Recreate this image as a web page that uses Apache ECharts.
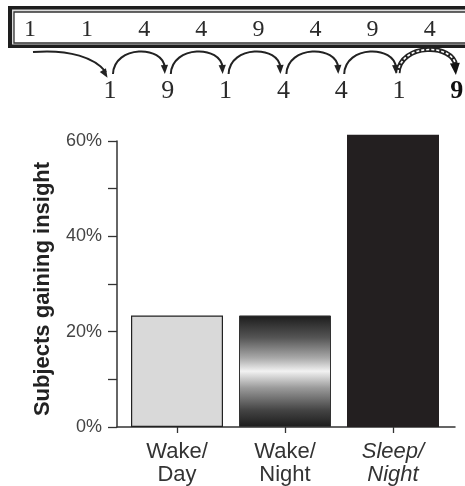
<!DOCTYPE html>
<html>
<head>
<meta charset="utf-8">
<script src="https://cdn.jsdelivr.net/npm/echarts@6/dist/echarts.min.js"></script>
<style>
html,body{margin:0;padding:0;background:#fff;}
#chart{width:465px;height:486px;}
</style>
</head>
<body>
<div id="chart"></div>
<script>
// ---- data ----
const categories = ['Wake/\nDay', 'Wake/\nNight', 'Sleep/\nNight'];
const insightPercent = [23.4, 23.4, 61.3];
const yTicks = [0, 20, 40, 60];
const stimulusSequence = [1, 1, 4, 4, 9, 4, 9, 4];
const responseSequence = [1, 9, 1, 4, 4, 1, 9];

// ---- layout helpers (not data) ----
const seqX0 = 30, seqDx = 57.1, seqY = 29.5;
const respX0 = 110, respDx = 57.8, respY = 91;

function arrowHead(ex, ey, cx, cy, size, color) {
  const dx = ex - cx, dy = ey - cy;
  const len = Math.sqrt(dx * dx + dy * dy);
  const ux = dx / len, uy = dy / len;
  const px = -uy, py = ux;
  const bx = ex - ux * size, by = ey - uy * size;
  const w = size * 0.45;
  return {
    type: 'polygon',
    shape: { points: [[ex + ux * 1, ey + uy * 1], [bx + px * w, by + py * w], [bx - px * w, by - py * w]] },
    style: { fill: color }
  };
}

const graphics = [];
// double-bordered box
graphics.push({ type: 'rect', shape: { x: 8, y: 6, width: 480, height: 42 }, style: { fill: '#1e1e1e' } });
graphics.push({ type: 'rect', shape: { x: 12, y: 9.5, width: 480, height: 35 }, style: { fill: '#dcdcdc' } });
graphics.push({ type: 'rect', shape: { x: 14, y: 12, width: 480, height: 31 }, style: { fill: '#ffffff', stroke: '#333', lineWidth: 1.3 } });

stimulusSequence.forEach((v, i) => {
  graphics.push({
    type: 'text', x: seqX0 + i * seqDx, y: seqY,
    style: { text: String(v), font: '24px "Liberation Serif"', fill: '#2a2a2a', align: 'center', verticalAlign: 'middle' }
  });
});
responseSequence.forEach((v, i) => {
  const last = i === responseSequence.length - 1;
  graphics.push({
    type: 'text', x: respX0 + i * respDx, y: respY,
    style: { text: String(v), font: (last ? 'bold ' : '') + '26px "Liberation Serif"', fill: last ? '#111' : '#2a2a2a', align: 'center', verticalAlign: 'middle' }
  });
});

// first arrow (from the sequence box to first response)
{
  const ex = respX0 - 3, ey = 77;
  graphics.push({
    type: 'bezierCurve',
    shape: { x1: 33, y1: 52, cpx1: 70, cpy1: 49, cpx2: 95, cpy2: 58, x2: ex - 1, y2: ey - 5 },
    style: { stroke: '#222', lineWidth: 2, fill: null }
  });
  graphics.push(arrowHead(ex, ey, 98, 62, 8, '#222'));
}
// arcs between responses
for (let i = 0; i < responseSequence.length - 1; i++) {
  const sx = respX0 + i * respDx + 3;
  const ex = respX0 + (i + 1) * respDx - 3;
  const lastArc = i === responseSequence.length - 2;
  const ey = 73;
  if (!lastArc) {
    graphics.push({
      type: 'bezierCurve',
      shape: { x1: sx, y1: 74, cpx1: sx + 1, cpy1: 45, cpx2: ex - 1, cpy2: 45, x2: ex, y2: ey - 5 },
      style: { stroke: '#222', lineWidth: 2, fill: null }
    });
    graphics.push(arrowHead(ex, ey, ex - 1, 50, 8, '#222'));
  } else {
    const ex2 = ex + 2, ey2 = 74;
    graphics.push({
      type: 'bezierCurve',
      shape: { x1: sx - 4, y1: 73, cpx1: sx - 2, cpy1: 43, cpx2: ex2 - 2, cpy2: 43, x2: ex2, y2: ey2 - 8 },
      style: { stroke: '#222', lineWidth: 5, fill: null }
    });
    graphics.push({
      type: 'bezierCurve',
      shape: { x1: sx - 4, y1: 73, cpx1: sx - 2, cpy1: 43, cpx2: ex2 - 2, cpy2: 43, x2: ex2, y2: ey2 - 8 },
      style: { stroke: '#fff', lineWidth: 1.6, lineDash: [3, 2], fill: null }
    });
    graphics.push(arrowHead(ex2, ey2, ex2 - 2, 50, 11, '#111'));
  }
}

const chart = echarts.init(document.getElementById('chart'), null, { renderer: 'canvas' });
const barStyles = [
  { color: '#d9d9d9', borderColor: '#222', borderWidth: 1.2 },
  {
    color: {
      type: 'linear', x: 0, y: 0, x2: 0, y2: 1,
      colorStops: [
        { offset: 0, color: '#1c1c1c' },
        { offset: 0.2, color: '#555' },
        { offset: 0.38, color: '#a8a8a8' },
        { offset: 0.5, color: '#f2f2f2' },
        { offset: 0.65, color: '#9a9a9a' },
        { offset: 0.85, color: '#444' },
        { offset: 1, color: '#1c1c1c' }
      ]
    },
    borderColor: '#333', borderWidth: 1
  },
  { color: '#231f20' }
];

const yMin = yTicks[0], yMax = yTicks[yTicks.length - 1], yStep = yTicks[1] - yTicks[0];

chart.setOption({
  animation: false,
  graphic: graphics,
  grid: [
    { left: 117, right: 10, top: 141, bottom: 59, containLabel: false },
    { left: 123, right: 18, top: 141, bottom: 59, containLabel: false }
  ],
  xAxis: [
    {
      gridIndex: 0,
      type: 'category',
      data: [''],
      axisLine: { show: true, lineStyle: { color: '#333', width: 1.5 } },
      axisTick: { show: false },
      axisLabel: { show: false }
    },
    {
      gridIndex: 1,
      type: 'category',
      data: categories,
      axisLine: { show: false },
      axisTick: { show: true, interval: 0, alignWithLabel: true, length: 6, lineStyle: { color: '#333', width: 1.3 } },
      axisLabel: {
        interval: 0,
        hideOverlap: false,
        margin: 13,
        color: '#333',
        fontFamily: 'Liberation Sans',
        fontSize: 22,
        lineHeight: 23,
        formatter: function (v, idx) {
          const parts = v.split('\n');
          if (idx === 2) return parts.map(p => '{it|' + p + '}').join('\n');
          return parts.map(p => '{n|' + p + '}').join('\n');
        },
        rich: {
          n: { fontSize: 22, lineHeight: 23, color: '#333', fontFamily: 'Liberation Sans' },
          it: { fontSize: 22, lineHeight: 23, color: '#333', fontFamily: 'Liberation Sans', fontStyle: 'italic' }
        }
      }
    }
  ],
  yAxis: [
    {
      gridIndex: 0,
      type: 'value',
      min: yMin, max: yMax, interval: yStep,
      name: 'Subjects gaining insight',
      nameLocation: 'middle',
      nameGap: 63,
      nameTextStyle: { fontFamily: 'Liberation Sans', fontWeight: 'bold', fontSize: 22, color: '#222', padding: [0, 10, 0, 0] },
      axisLine: { show: true, lineStyle: { color: '#333', width: 1.5 } },
      axisTick: { show: true, length: 9, lineStyle: { color: '#333', width: 1.3 } },
      minorTick: { show: true, splitNumber: 2, length: 9, lineStyle: { color: '#333', width: 1.3 } },
      splitLine: { show: false },
      minorSplitLine: { show: false },
      axisLabel: { formatter: '{value}%', margin: 15, color: '#444', fontFamily: 'Liberation Sans', fontSize: 18 }
    },
    {
      gridIndex: 1,
      type: 'value',
      min: yMin, max: yMax, interval: yStep,
      show: false,
      splitLine: { show: false }
    }
  ],
  series: [{
    type: 'bar',
    xAxisIndex: 1,
    yAxisIndex: 1,
    clip: false,
    barWidth: 92,
    data: insightPercent.map((v, i) => ({ value: v, itemStyle: barStyles[i] }))
  }]
});
</script>
</body>
</html>
